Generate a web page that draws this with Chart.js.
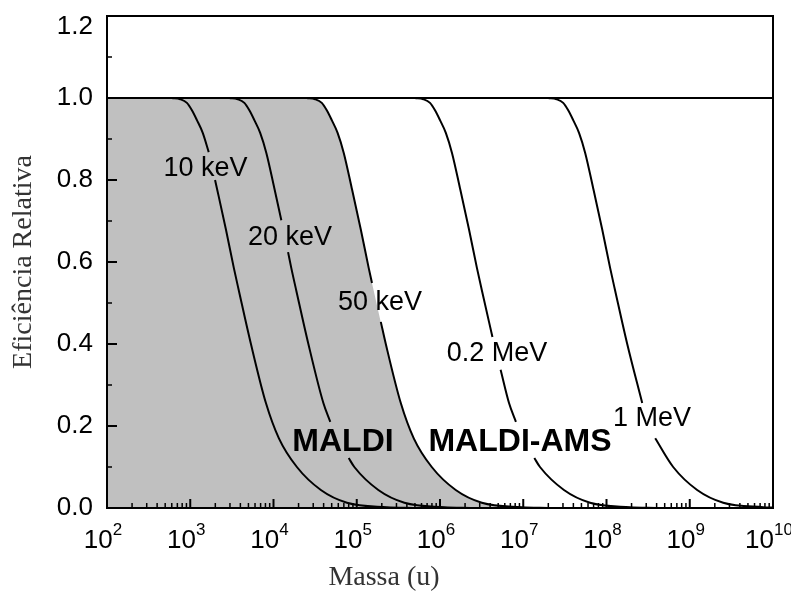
<!DOCTYPE html>
<html>
<head>
<meta charset="utf-8">
<script src="https://cdn.jsdelivr.net/npm/chart.js@4/dist/chart.umd.min.js"></script>
<style>
html,body{margin:0;padding:0;background:#ffffff;}
canvas{display:block;}
</style>
</head>
<body>
<canvas id="c" width="791" height="592"></canvas>
<script>
// ---- Axis ticks ----
const xTickExponents = [2, 3, 4, 5, 6, 7, 8, 9, 10];
const xTickBase = '10';
const yTickValues = [0, 0.2, 0.4, 0.6, 0.8, 1.0, 1.2];

// ---- Curves: log10(mass in u) and relative efficiency (null = gap behind a label) ----
const logMass10keV = [2.78, 2.88, 2.96, 3.02, 3.08, 3.15, 3.222, null, 3.298, 3.32, 3.428, 3.524, 3.584, 3.729, 3.909, 4.065, 4.281, 4.569, 4.882, 5.362, 5.68];
const eff10keV     = [1.000, 0.997, 0.988, 0.970, 0.946, 0.915, 0.868, null, 0.800, 0.780, 0.680, 0.585, 0.530, 0.400, 0.256, 0.170, 0.100, 0.044, 0.013, 0.002, 0.000];

const logMass20keV = [3.47, 3.57, 3.65, 3.71, 3.77, 3.84, 3.914, 4.01, 4.094, null, 4.175, 4.214, 4.274, 4.419, 4.599, 4.682, null, 4.903, 4.971, 5.259, 5.572, 6.052, 6.37];
const eff20keV     = [1.000, 0.997, 0.988, 0.970, 0.946, 0.915, 0.866, 0.780, 0.702, null, 0.624, 0.585, 0.530, 0.400, 0.256, 0.210, null, 0.122, 0.100, 0.044, 0.013, 0.002, 0.000];

const logMass50keV = [4.40, 4.50, 4.58, 4.64, 4.70, 4.77, 4.844, 4.94, 5.048, 5.144, 5.183, null, 5.289, 5.349, 5.529, 5.685, 5.901, 6.189, 6.502, 6.982, 7.30];
const eff50keV     = [1.000, 0.997, 0.988, 0.970, 0.946, 0.915, 0.866, 0.780, 0.680, 0.585, 0.549, null, 0.454, 0.400, 0.256, 0.170, 0.100, 0.044, 0.013, 0.002, 0.000];

const logMass02MeV = [5.70, 5.80, 5.88, 5.94, 6.00, 6.07, 6.144, 6.24, 6.348, 6.444, 6.504, 6.630, null, 6.728, 6.829, 6.912, null, 7.133, 7.201, 7.489, 7.802, 8.282, 8.60];
const eff02MeV     = [1.000, 0.997, 0.988, 0.970, 0.946, 0.915, 0.866, 0.780, 0.680, 0.585, 0.530, 0.417, null, 0.337, 0.256, 0.210, null, 0.122, 0.100, 0.044, 0.013, 0.002, 0.000];

const logMass1MeV  = [7.30, 7.40, 7.48, 7.54, 7.60, 7.67, 7.744, 7.84, 7.948, 8.044, 8.104, 8.249, 8.429, null, 8.585, 8.801, 9.089, 9.402, 9.882, 10.0];
const eff1MeV      = [1.000, 0.997, 0.988, 0.970, 0.946, 0.915, 0.866, 0.780, 0.680, 0.585, 0.530, 0.400, 0.256, null, 0.170, 0.100, 0.044, 0.013, 0.002, 0.001];

// MALDI region (shaded, bounded by the 50 keV curve)
const logMassMaldi = [2.0, 4.40, 4.50, 4.58, 4.64, 4.70, 4.77, 4.844, 4.94, 5.048, 5.144, 5.204, 5.349, 5.529, 5.685, 5.901, 6.189, 6.502, 6.982, 7.30];
const effMaldi     = [1.000, 1.000, 0.997, 0.988, 0.970, 0.946, 0.915, 0.866, 0.780, 0.680, 0.585, 0.530, 0.400, 0.256, 0.170, 0.100, 0.044, 0.013, 0.002, 0.000];

// plateau at 1.0
const logMassUnity = [2, 10];
const effUnity     = [1.0, 1.0];

// ---- Text labels inside the plot (data coordinates) ----
const labelTexts   = ['10 keV', '20 keV', '50 keV', '0.2 MeV', '1 MeV', 'MALDI', 'MALDI-AMS'];
const labelLogMass = [3.183, 4.198, 5.279, 6.685, 8.547, 4.835, 6.961];
const labelEff     = [0.829, 0.659, 0.502, 0.376, 0.217, 0.161, 0.161];
const labelBold    = [false, false, false, false, false, true, true];

function toPoints(lx, ly) {
  return lx.map((e, i) => ({ x: e === null ? null : Math.pow(10, e), y: ly[i] }));
}

const curveStyle = {
  borderColor: '#000000',
  borderWidth: 2,
  pointRadius: 0,
  fill: false,
  cubicInterpolationMode: 'monotone',
  spanGaps: false,
  order: 1
};

const SANS = '"Liberation Sans", Arial, sans-serif';

const frameAndTicks = {
  id: 'frameAndTicks',
  afterDatasetsDraw(chart) {
    const { ctx, chartArea: a, scales: { x, y } } = chart;
    ctx.save();
    ctx.strokeStyle = '#000000';
    ctx.lineCap = 'butt';
    // x minor ticks (inward)
    ctx.lineWidth = 1.5;
    ctx.beginPath();
    for (let e = 2; e < 10; e++) {
      for (let k = 2; k < 10; k++) {
        const px = x.getPixelForValue(k * Math.pow(10, e));
        ctx.moveTo(px, a.bottom);
        ctx.lineTo(px, a.bottom - 5);
      }
    }
    ctx.stroke();
    // x major ticks
    ctx.lineWidth = 2;
    ctx.beginPath();
    xTickExponents.forEach(e => {
      const px = x.getPixelForValue(Math.pow(10, e));
      ctx.moveTo(px, a.bottom);
      ctx.lineTo(px, a.bottom - 9);
    });
    ctx.stroke();
    // y major + minor ticks
    ctx.beginPath();
    yTickValues.forEach(v => {
      const py = y.getPixelForValue(v);
      ctx.moveTo(a.left, py);
      ctx.lineTo(a.left + 10, py);
    });
    ctx.stroke();
    ctx.lineWidth = 1.5;
    ctx.beginPath();
    for (let i = 0; i < yTickValues.length - 1; i++) {
      const py = y.getPixelForValue((yTickValues[i] + yTickValues[i + 1]) / 2);
      ctx.moveTo(a.left, py);
      ctx.lineTo(a.left + 5, py);
    }
    ctx.stroke();
    // frame
    ctx.lineWidth = 2;
    ctx.strokeRect(a.left, a.top, a.right - a.left, a.bottom - a.top);
    // labels inside the plot
    ctx.fillStyle = '#000000';
    ctx.textAlign = 'center';
    ctx.textBaseline = 'middle';
    labelTexts.forEach((t, i) => {
      ctx.font = labelBold[i] ? 'bold 32px ' + SANS : '27px ' + SANS;
      ctx.fillText(t, x.getPixelForValue(Math.pow(10, labelLogMass[i])), y.getPixelForValue(labelEff[i]));
    });
    // x tick labels: 10 with superscript exponent
    ctx.textAlign = 'left';
    ctx.textBaseline = 'alphabetic';
    const baseFont = '26px ' + SANS, expFont = '17px ' + SANS;
    xTickExponents.forEach(e => {
      const px = x.getPixelForValue(Math.pow(10, e));
      ctx.font = baseFont;
      const wb = ctx.measureText(xTickBase).width;
      ctx.font = expFont;
      const we = ctx.measureText(String(e)).width;
      const x0 = px - (wb + we) / 2 - 4;
      ctx.font = baseFont;
      ctx.fillText(xTickBase, x0, a.bottom + 40);
      ctx.font = expFont;
      ctx.fillText(String(e), x0 + wb, a.bottom + 27);
    });
    ctx.restore();
  }
};

new Chart(document.getElementById('c'), {
  type: 'line',
  data: {
    datasets: [
      Object.assign({ label: '10 keV', data: toPoints(logMass10keV, eff10keV) }, curveStyle),
      Object.assign({ label: '20 keV', data: toPoints(logMass20keV, eff20keV) }, curveStyle),
      Object.assign({ label: '50 keV', data: toPoints(logMass50keV, eff50keV) }, curveStyle),
      Object.assign({ label: '0.2 MeV', data: toPoints(logMass02MeV, eff02MeV) }, curveStyle),
      Object.assign({ label: '1 MeV', data: toPoints(logMass1MeV, eff1MeV) }, curveStyle),
      Object.assign({ label: 'plateau', data: toPoints(logMassUnity, effUnity) }, curveStyle),
      {
        label: 'MALDI',
        data: toPoints(logMassMaldi, effMaldi),
        borderWidth: 0,
        borderColor: 'rgba(0,0,0,0)',
        backgroundColor: '#c0c0c0',
        pointRadius: 0,
        fill: 'origin',
        cubicInterpolationMode: 'monotone',
        order: 5
      }
    ]
  },
  options: {
    responsive: false,
    animation: false,
    events: [],
    layout: { padding: { top: 16, right: 18, bottom: 0, left: 0 } },
    plugins: { legend: { display: false }, tooltip: { enabled: false } },
    scales: {
      x: {
        type: 'logarithmic',
        min: 1e2,
        max: 1e10,
        grid: { display: false, drawTicks: false, tickLength: 0 },
        border: { display: false },
        afterBuildTicks(scale) {
          scale.ticks = xTickExponents.map(e => ({ value: Math.pow(10, e) }));
        },
        afterFit(scale) {
          scale.height = 84;
          scale.paddingLeft = 0; scale.paddingRight = 0;
        },
        ticks: { display: false },
        title: {
          display: true,
          text: 'Massa (u)                ',
          color: '#333333',
          font: { family: '"Liberation Serif", "Times New Roman", serif', size: 28, lineHeight: 1 },
          padding: { top: 0, bottom: 0 }
        }
      },
      y: {
        min: 0,
        max: 1.2,
        grid: { display: false, drawTicks: false, tickLength: 0 },
        border: { display: false },
        afterBuildTicks(scale) {
          scale.ticks = yTickValues.map(v => ({ value: v }));
        },
        afterFit(scale) {
          scale.width = 107;
          scale.paddingTop = 0; scale.paddingBottom = 0;
        },
        ticks: {
          padding: 14,
          color: '#000000',
          font: { family: SANS, size: 26, lineHeight: 0.85 },
          callback: v => (Math.abs(v - 1.2) < 1e-6 ? ['', v.toFixed(1)] : v.toFixed(1))
        },
        title: {
          display: true,
          text: 'Eficiência Relativa',
          color: '#333333',
          font: { family: '"Liberation Serif", "Times New Roman", serif', size: 28 },
          padding: { top: 7, bottom: 0 }
        }
      }
    }
  },
  plugins: [frameAndTicks]
});
</script>
</body>
</html>
